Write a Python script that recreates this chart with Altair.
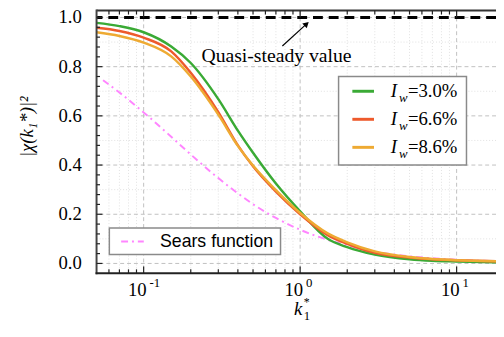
import altair as alt
import pandas as pd

# ---------------- data ----------------
k_iw = [0.05, 0.07, 0.1, 0.15, 0.2, 0.3, 0.4, 0.5, 0.7, 1.0, 1.5, 2.0, 3.0, 5.0, 7.0, 10.0, 20.0]
iw_30 = [0.978, 0.965, 0.940, 0.882, 0.815, 0.668, 0.540, 0.450, 0.325, 0.212, 0.100, 0.066, 0.036, 0.017, 0.011, 0.008, 0.004]
iw_66 = [0.958, 0.945, 0.918, 0.862, 0.775, 0.615, 0.480, 0.395, 0.292, 0.200, 0.115, 0.080, 0.043, 0.024, 0.017, 0.013, 0.008]
iw_86 = [0.940, 0.925, 0.898, 0.842, 0.760, 0.605, 0.478, 0.398, 0.298, 0.205, 0.122, 0.086, 0.049, 0.026, 0.018, 0.013, 0.008]

k_sears = [0.055, 0.07, 0.1, 0.15, 0.2, 0.3, 0.4, 0.5, 0.7, 1.0, 1.5, 2.0, 3.0, 5.0, 7.0, 10.0, 20.0]
sears = [0.745, 0.695, 0.614, 0.515, 0.443, 0.347, 0.285, 0.241, 0.185, 0.137, 0.096, 0.074, 0.048, 0.029, 0.021, 0.015, 0.008]

series_names = ["Iw=3.0%", "Iw=6.6%", "Iw=8.6%"]
legend_values = ["=3.0%", "=6.6%", "=8.6%"]
series_colors = ["#3aaa35", "#ee5a2c", "#eeaa33"]
sears_color = "#ff85ff"

x_major = [0.1, 1.0, 10.0]
x_exps = ["-1", "0", "1"]
x_minor = [0.06, 0.07, 0.08, 0.09, 0.2, 0.3, 0.4, 0.5, 0.6, 0.7, 0.8, 0.9,
           2, 3, 4, 5, 6, 7, 8, 9]
y_major = [0.0, 0.2, 0.4, 0.6, 0.8, 1.0]
y_labels = ["0.0", "0.2", "0.4", "0.6", "0.8", "1.0"]
y_minor = [0.04, 0.08, 0.12, 0.16, 0.24, 0.28, 0.32, 0.36, 0.44, 0.48, 0.52, 0.56,
           0.64, 0.68, 0.72, 0.76, 0.84, 0.88, 0.92, 0.96]
y_minor_grid = [0.1, 0.3, 0.5, 0.7, 0.9]

quasi_value = 1.0
annot_text = "Quasi-steady value"
annot_pos = (0.706, 0.818)
arrow_from = (0.77, 0.884)
arrow_to = (1.10, 0.974)

# ---------------- layout constants ----------------
W, H = 406, 267
SERIF = "Liberation Serif"
SANS = "Liberation Sans"
XS = alt.Scale(type="log", domain=[0.05, 17.85], nice=False)
YS = alt.Scale(domain=[-0.04, 1.028], nice=False, zero=False)

rows = []
for name, vals in zip(series_names, [iw_30, iw_66, iw_86]):
    for k, v in zip(k_iw, vals):
        rows.append({"k": k, "v": v, "s": name})
df_iw = pd.DataFrame(rows)
df_sears = pd.DataFrame({"k": k_sears, "v": sears})

nx = alt.X("k:Q", scale=XS, axis=None)
ny = alt.Y("v:Q", scale=YS, axis=None)

layers = []

# grids
layers.append(alt.Chart(pd.DataFrame({"k": x_minor})).mark_rule(color="#e0e0e0", strokeDash=[1, 2], strokeWidth=1)
              .encode(x=nx))
layers.append(alt.Chart(pd.DataFrame({"v": y_minor_grid})).mark_rule(color="#e0e0e0", strokeDash=[1, 2], strokeWidth=1)
              .encode(y=ny))
layers.append(alt.Chart(pd.DataFrame({"k": x_major})).mark_rule(color="#c0c0c0", strokeDash=[4, 3], strokeWidth=1)
              .encode(x=nx))
layers.append(alt.Chart(pd.DataFrame({"v": y_major})).mark_rule(color="#c0c0c0", strokeDash=[4, 3], strokeWidth=1)
              .encode(y=ny))

# curves
layers.append(alt.Chart(df_sears).mark_line(color=sears_color, strokeWidth=2, strokeDash=[7, 4, 2, 4],
                                            interpolate="monotone", clip=True)
              .encode(x=nx, y=ny))
layers.append(alt.Chart(df_iw).mark_line(strokeWidth=2.5, interpolate="monotone", clip=True)
              .encode(x=nx, y=ny,
                      color=alt.Color("s:N", scale=alt.Scale(domain=series_names, range=series_colors), legend=None),
                      order=alt.Order("k:Q")))

# quasi-steady dashed line
layers.append(alt.Chart(pd.DataFrame({"v": [quasi_value]})).mark_rule(color="black", strokeWidth=3, strokeDash=[10, 6])
              .encode(y=ny))

# annotation
layers.append(alt.Chart(pd.DataFrame({"k": [annot_pos[0]], "v": [annot_pos[1]], "t": [annot_text]}))
              .mark_text(font=SERIF, fontSize=20, align="center", baseline="alphabetic", color="black")
              .encode(x=nx, y=ny, text="t:N"))
layers.append(alt.Chart(pd.DataFrame({"k": [arrow_from[0]], "v": [arrow_from[1]], "k2": [arrow_to[0]], "v2": [arrow_to[1]]}))
              .mark_rule(color="black", strokeWidth=1.2)
              .encode(x=nx, y=ny, x2="k2:Q", y2="v2:Q"))
layers.append(alt.Chart(pd.DataFrame({"k": [arrow_to[0]], "v": [arrow_to[1]]}))
              .mark_point(shape="triangle-up", filled=True, color="black", size=45, angle=47, opacity=1)
              .encode(x=nx, y=ny))

# frame lines: top, left, bottom
def frame(x0, x1, y0, y1, color):
    return alt.Chart(pd.DataFrame({"a": [0]})).mark_rule(color=color, strokeWidth=2).encode(
        x=alt.value(x0), x2=alt.value(x1), y=alt.value(y0), y2=alt.value(y1))

layers.append(frame(0, W + 10, 0, 0, "#333333"))
layers.append(frame(0, 0, -1, H + 1, "#444444"))
layers.append(frame(-1, W + 10, H, H, "#222222"))

# inward ticks
def xticks(vals, length):
    d = pd.DataFrame({"k": vals})
    bot = alt.Chart(d).mark_rule(color="#222222", strokeWidth=1.2).encode(
        x=nx, y=alt.value(H), y2=alt.value(H - length))
    top = alt.Chart(d).mark_rule(color="#222222", strokeWidth=1.2).encode(
        x=nx, y=alt.value(0), y2=alt.value(length))
    return [bot, top]

layers += xticks(x_major, 7)
layers += xticks(x_minor, 4)
layers.append(alt.Chart(pd.DataFrame({"v": y_major})).mark_rule(color="#222222", strokeWidth=1.2)
              .encode(y=ny, x=alt.value(0), x2=alt.value(6)))
layers.append(alt.Chart(pd.DataFrame({"v": y_minor})).mark_rule(color="#222222", strokeWidth=1.2)
              .encode(y=ny, x=alt.value(0), x2=alt.value(3.5)))

# y tick labels
layers.append(alt.Chart(pd.DataFrame({"v": y_major, "t": y_labels}))
              .mark_text(font=SERIF, fontSize=19, align="right", baseline="middle", color="black")
              .encode(y=ny, x=alt.value(-15), text="t:N"))

# x tick labels 10^n
df_lab = pd.DataFrame({"k": x_major, "e": x_exps, "b": ["10"] * len(x_major)})
layers.append(alt.Chart(df_lab).mark_text(font=SERIF, fontSize=19, align="right", baseline="alphabetic", dx=3, color="black")
              .encode(x=nx, y=alt.value(H + 23), text="b:N"))
layers.append(alt.Chart(df_lab).mark_text(font=SERIF, fontSize=13, align="left", baseline="alphabetic", dx=6, color="black")
              .encode(x=nx, y=alt.value(H + 14), text="e:N"))

# axis titles
def txt(s, x, y, size=19, style="normal", font=SERIF, angle=0, align="left", baseline="middle"):
    return alt.Chart(pd.DataFrame({"t": [s]})).mark_text(
        font=font, fontSize=size, fontStyle=style, angle=angle, align=align, baseline=baseline, color="black"
    ).encode(x=alt.value(x), y=alt.value(y), text="t:N")

layers.append(txt("k", 205, H + 42, size=19, style="italic", align="center", baseline="alphabetic"))
layers.append(txt("1", 210.5, H + 47, size=13, align="left", baseline="alphabetic"))
layers.append(txt("*", 210.5, H + 33, size=12, align="left", baseline="alphabetic"))
layers.append(txt("|χ(k₁*)|²", -71, 118, size=19, style="italic", angle=270, align="center"))

# Iw legend (manual, for italic I with subscript w)
LX0, LY0, LX1, LY1 = 246, 67, 376, 157
layers.append(alt.Chart(pd.DataFrame({"a": [0]})).mark_rect(fill="white", stroke="#8a8a8a", strokeWidth=1.5)
              .encode(x=alt.value(LX0), x2=alt.value(LX1), y=alt.value(LY0), y2=alt.value(LY1)))
for i, (lab, col) in enumerate(zip(legend_values, series_colors)):
    yy = 82 + 28.5 * i
    layers.append(alt.Chart(pd.DataFrame({"a": [0]})).mark_rule(color=col, strokeWidth=3)
                  .encode(x=alt.value(260), x2=alt.value(282), y=alt.value(yy)))
    layers.append(txt("I", 299, yy, size=19, style="italic"))
    layers.append(txt("w", 307.5, yy + 7, size=13, style="italic"))
    layers.append(txt(lab, 316.5, yy, size=19))

# Sears legend
layers.append(alt.Chart(pd.DataFrame({"a": [0]})).mark_rect(fill="white", stroke="#8a8a8a", strokeWidth=1.5)
              .encode(x=alt.value(13), x2=alt.value(187), y=alt.value(221), y2=alt.value(248)))
layers.append(alt.Chart(pd.DataFrame({"a": [0]})).mark_rule(color=sears_color, strokeWidth=2, strokeDash=[7, 4, 2, 4])
              .encode(x=alt.value(25), x2=alt.value(48), y=alt.value(234.7)))
layers.append(txt("Sears function", 64.5, 235, size=18, font=SANS))

chart = alt.layer(*layers).properties(
    width=W, height=H,
    autosize=alt.AutoSizeParams(type="none"),
    padding={"left": 90, "top": 0, "right": 0, "bottom": 54},
    background="white",
).configure_view(stroke=None)

chart.save("out.html", embed_options={"renderer": "svg", "actions": False})
